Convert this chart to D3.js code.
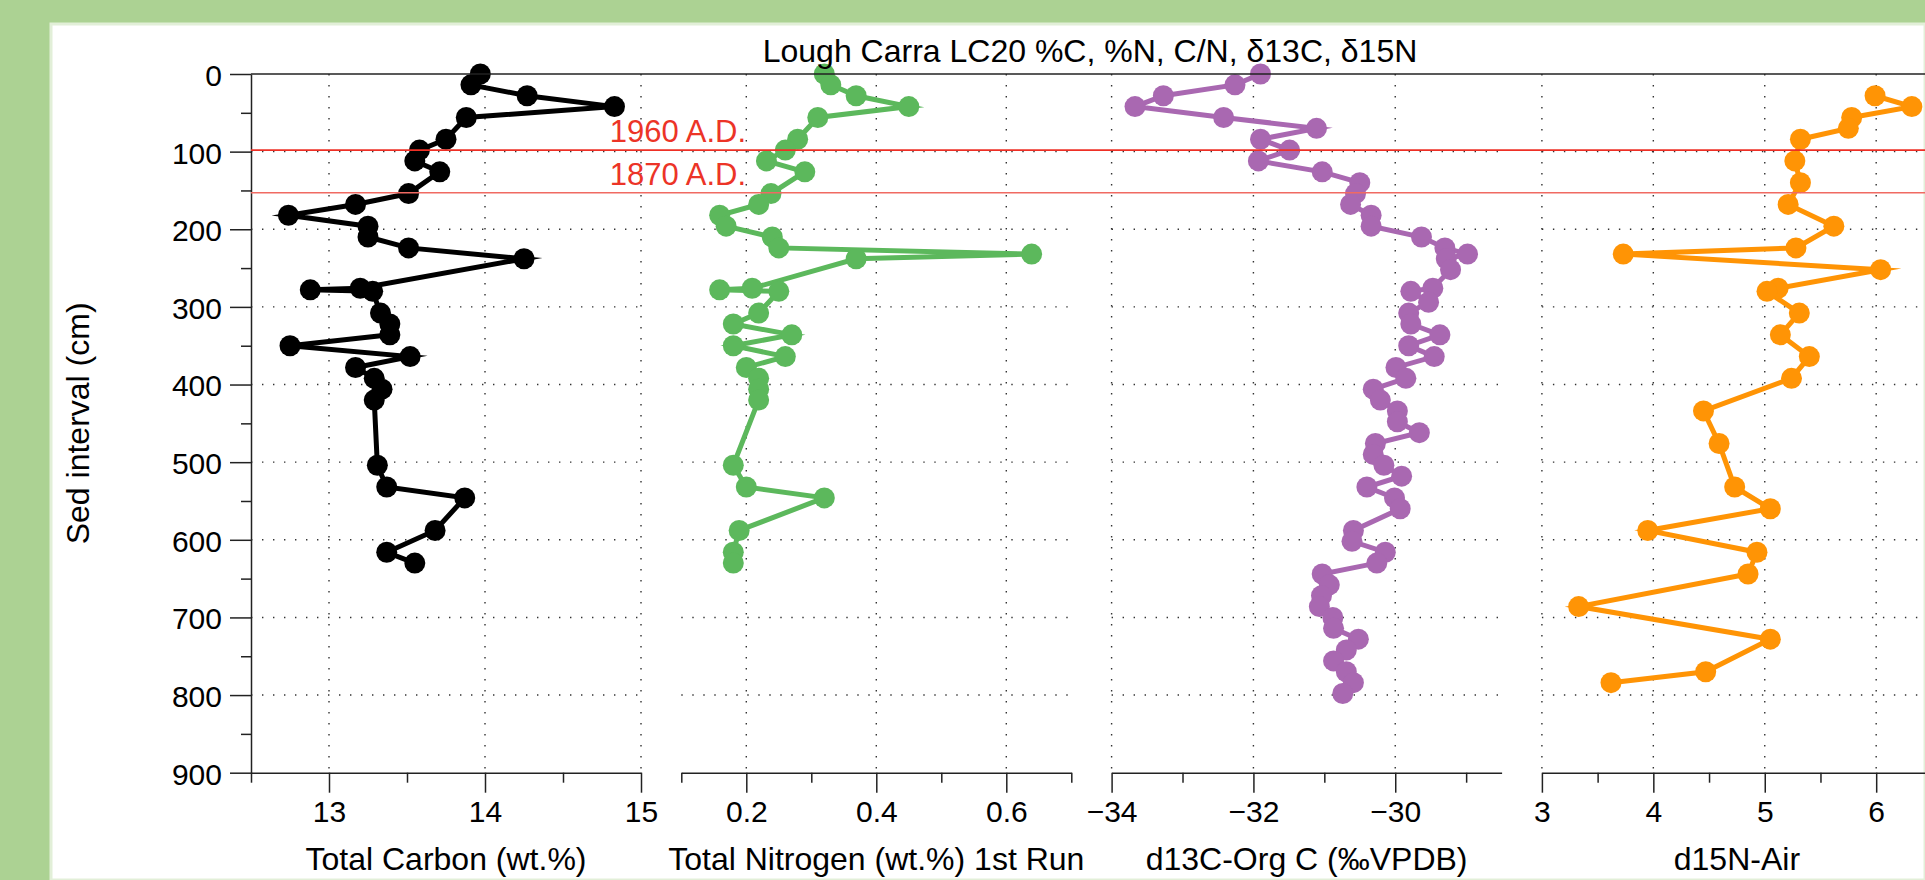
<!DOCTYPE html>
<html>
<head>
<meta charset="utf-8">
<script src="https://cdn.jsdelivr.net/npm/d3@7"></script>
<style>
  html, body { margin: 0; padding: 0; background: #acd293; }
  #chart { width: 1925px; height: 880px; overflow: hidden; }
  svg { display: block; font-family: "Liberation Sans", Arial, Helvetica, sans-serif; }
</style>
</head>
<body>
<div id="chart"></div>
<script>
// [depth (cm), value]
const CARBON = [
  [0, 13.97], [14, 13.91], [28, 14.27], [42, 14.83], [56, 13.88], [84, 13.75], [98, 13.58],
  [112, 13.55], [126, 13.71], [154, 13.51], [168, 13.17], [182, 12.74], [196, 13.25], [210, 13.25],
  [224, 13.51], [238, 14.25], [276, 13.2], [278, 12.88], [280, 13.28], [308, 13.33], [322, 13.39],
  [336, 13.39], [350, 12.75], [364, 13.52], [378, 13.17], [392, 13.29], [406, 13.34], [420, 13.29],
  [504, 13.31], [532, 13.37], [546, 13.87], [588, 13.68], [616, 13.37], [630, 13.55],
];

const NITROGEN = [
  [0, 0.32], [14, 0.33], [28, 0.369], [42, 0.45], [56, 0.31], [84, 0.279], [98, 0.26],
  [112, 0.231], [126, 0.29], [154, 0.238], [168, 0.219], [182, 0.159], [196, 0.169], [210, 0.24],
  [224, 0.25], [232, 0.639], [238, 0.369], [276, 0.209], [278, 0.159], [280, 0.25], [308, 0.219],
  [322, 0.18], [336, 0.27], [350, 0.18], [364, 0.26], [378, 0.2], [392, 0.219], [406, 0.219],
  [420, 0.219], [504, 0.18], [532, 0.2], [546, 0.32], [588, 0.189], [616, 0.18], [630, 0.18],
];

const D13C = [
  [0, -31.9], [14, -32.26], [28, -33.27], [42, -33.67], [56, -32.42], [70, -31.11], [84, -31.9],
  [98, -31.49], [112, -31.93], [126, -31.03], [140, -30.5], [154, -30.56], [168, -30.63],
  [182, -30.34], [196, -30.34], [210, -29.63], [224, -29.3], [232, -28.98], [238, -29.28],
  [252, -29.22], [276, -29.47], [280, -29.78], [294, -29.53], [308, -29.81], [322, -29.78],
  [336, -29.37], [350, -29.81], [364, -29.45], [378, -29.99], [392, -29.85], [406, -30.31],
  [420, -30.21], [434, -29.97], [448, -29.97], [462, -29.66], [476, -30.28], [490, -30.31],
  [504, -30.16], [518, -29.91], [532, -30.4], [546, -30.01], [560, -29.93], [588, -30.59],
  [602, -30.61], [616, -30.14], [630, -30.26], [644, -31.03], [658, -30.93], [672, -31.04],
  [686, -31.07], [700, -30.88], [714, -30.87], [728, -30.52], [742, -30.69], [756, -30.87],
  [770, -30.69], [784, -30.59], [798, -30.74],
];

const D15N = [
  [28, 5.99], [42, 6.32], [56, 5.78], [70, 5.75], [84, 5.32], [112, 5.27], [140, 5.32],
  [168, 5.21], [196, 5.62], [224, 5.28], [232, 3.73], [252, 6.04], [276, 5.12], [280, 5.02],
  [308, 5.31], [336, 5.14], [364, 5.4], [392, 5.24], [434, 4.45], [476, 4.59], [532, 4.73],
  [560, 5.05], [588, 3.95], [616, 4.93], [644, 4.85], [686, 3.33], [728, 5.05], [770, 4.47],
  [784, 3.62],
];

const DEPTH_TICKS = [0, 100, 200, 300, 400, 500, 600, 700, 800, 900];
const DEPTH_MINOR = [50, 150, 250, 350, 450, 550, 650, 750, 850];
const DEPTH_GRID = [100, 200, 300, 400, 500, 600, 700, 800];

const MARKERS = [
  { depth: 98, label: "1960 A.D.", color: "#ee2f25" },
  { depth: 153, label: "1870 A.D.", color: "#f06a62" },
];

const PANELS = [
  { data: CARBON, domain: [12.5, 15], ticks: [13, 14, 15], minor: [12.5, 13.5, 14.5], color: "#000000", title: "Total Carbon (wt.%)" },
  { data: NITROGEN, domain: [0.1, 0.7], ticks: [0.2, 0.4, 0.6], minor: [0.1, 0.3, 0.5, 0.7], color: "#5cb85c", title: "Total Nitrogen (wt.%) 1st Run" },
  { data: D13C, domain: [-34, -28.5], ticks: [-34, -32, -30], minor: [-33, -31, -29], color: "#a968b1", title: "d13C-Org C (\u2030VPDB)" },
  { data: D15N, domain: [3, 6.5], ticks: [3, 4, 5, 6], minor: [3.5, 4.5, 5.5, 6.5], color: "#ff9405", title: "d15N-Air" },
];

const width = 1925;
const height = 880;
const plotTop = 74;
const plotBottom = 772.7;
const plotLeft = 251;
const panelWidth = 390;
const panelStep = 430.3;

function formatTick(d) {
  return String(d).replace("-", "\u2212");
}

function renderChart() {
  const svg = d3.select("#chart").append("svg").attr("width", width).attr("height", height);

  svg.append("rect").attr("width", width).attr("height", height).attr("fill", "#acd293");
  svg.append("rect")
    .attr("x", 51).attr("y", 24)
    .attr("width", width - 51).attr("height", height - 24)
    .attr("fill", "#ffffff")
    .attr("stroke", "#e2efd8")
    .attr("stroke-width", 3);

  const y = d3.scaleLinear().domain([0, 900]).range([plotTop, plotBottom]);

  PANELS.forEach((panel, i) => {
    const left = plotLeft + i * panelStep;
    const x = d3.scaleLinear().domain(panel.domain).range([left, left + panelWidth]);
    const g = svg.append("g");

    // dotted grid
    g.append("g")
      .selectAll("line")
      .data(DEPTH_GRID)
      .join("line")
      .attr("x1", x.range()[0]).attr("x2", x.range()[1])
      .attr("y1", (d) => y(d)).attr("y2", (d) => y(d))
      .attr("stroke", "#333").attr("stroke-width", 1.4).attr("stroke-dasharray", "1.4,9.6");

    g.append("g")
      .selectAll("line")
      .data(panel.ticks)
      .join("line")
      .attr("x1", (d) => x(d)).attr("x2", (d) => x(d))
      .attr("y1", plotTop).attr("y2", plotBottom)
      .attr("stroke", "#333").attr("stroke-width", 1.4).attr("stroke-dasharray", "1.4,9.6");

    // bottom axis
    g.append("g")
      .attr("transform", `translate(0, ${plotBottom})`)
      .call(d3.axisBottom(x).tickValues(panel.ticks).tickSize(20).tickSizeOuter(0).tickFormat(formatTick))
      .call((axis) => axis.select(".domain").attr("stroke", "#222").attr("stroke-width", 1.5))
      .call((axis) => axis.selectAll(".tick line").attr("stroke", "#222").attr("stroke-width", 1.5))
      .call((axis) => axis.selectAll("text")
        .attr("y", 49).attr("dy", null)
        .attr("font-size", 30).attr("font-family", null).attr("fill", "#000"));

    g.append("g")
      .attr("transform", `translate(0, ${plotBottom})`)
      .call(d3.axisBottom(x).tickValues(panel.minor).tickSize(10).tickFormat(""))
      .call((axis) => axis.select(".domain").remove())
      .call((axis) => axis.selectAll(".tick line").attr("stroke", "#222").attr("stroke-width", 1.5));

    g.append("text")
      .attr("x", (x.range()[0] + x.range()[1]) / 2)
      .attr("y", 870)
      .attr("text-anchor", "middle")
      .attr("font-size", 32)
      .text(panel.title);

    const line = d3.line().x((d) => x(d[1])).y((d) => y(d[0]));

    g.append("path")
      .datum(panel.data)
      .attr("d", line)
      .attr("fill", "none")
      .attr("stroke", panel.color)
      .attr("stroke-width", 5)
      .attr("stroke-linejoin", "miter")
      .attr("stroke-miterlimit", 10);

    g.append("g")
      .selectAll("circle")
      .data(panel.data)
      .join("circle")
      .attr("cx", (d) => x(d[1]))
      .attr("cy", (d) => y(d[0]))
      .attr("r", 10.5)
      .attr("fill", panel.color);
  });

  // left depth axis
  svg.append("g")
    .attr("transform", `translate(${plotLeft}, 0)`)
    .call(d3.axisLeft(y).tickValues(DEPTH_TICKS).tickSize(21).tickSizeOuter(0))
    .call((axis) => axis.select(".domain").attr("stroke", "#222").attr("stroke-width", 1.5))
    .call((axis) => axis.selectAll(".tick line").attr("stroke", "#222").attr("stroke-width", 1.5))
    .call((axis) => axis.selectAll("text")
      .attr("x", -29).attr("dy", "0.38em")
      .attr("font-size", 30).attr("font-family", null).attr("fill", "#000"));

  svg.append("g")
    .attr("transform", `translate(${plotLeft}, 0)`)
    .call(d3.axisLeft(y).tickValues(DEPTH_MINOR).tickSize(10).tickFormat(""))
    .call((axis) => axis.select(".domain").remove())
    .call((axis) => axis.selectAll(".tick line").attr("stroke", "#222").attr("stroke-width", 1.5));

  // top frame line
  svg.append("line")
    .attr("x1", plotLeft).attr("x2", width)
    .attr("y1", plotTop).attr("y2", plotTop)
    .attr("stroke", "#222").attr("stroke-width", 1.5);

  svg.append("text")
    .attr("transform", `translate(89, ${(plotTop + plotBottom) / 2}) rotate(-90)`)
    .attr("text-anchor", "middle")
    .attr("font-size", 32)
    .text("Sed interval (cm)");

  svg.append("text")
    .attr("x", 1090)
    .attr("y", 62)
    .attr("text-anchor", "middle")
    .attr("font-size", 32)
    .text("Lough Carra LC20 %C, %N, C/N, \u03b413C, \u03b415N");

  // date horizons
  const markers = svg.append("g");
  markers.selectAll("line")
    .data(MARKERS)
    .join("line")
    .attr("x1", plotLeft).attr("x2", width)
    .attr("y1", (d) => y(d.depth)).attr("y2", (d) => y(d.depth))
    .attr("stroke", (d) => d.color)
    .attr("stroke-width", 1.6);

  markers.selectAll("text")
    .data(MARKERS)
    .join("text")
    .attr("x", 746)
    .attr("y", (d) => y(d.depth) - 8)
    .attr("text-anchor", "end")
    .attr("font-size", 31)
    .attr("fill", "#ec3427")
    .text((d) => d.label);
}

renderChart();
</script>
</body>
</html>
